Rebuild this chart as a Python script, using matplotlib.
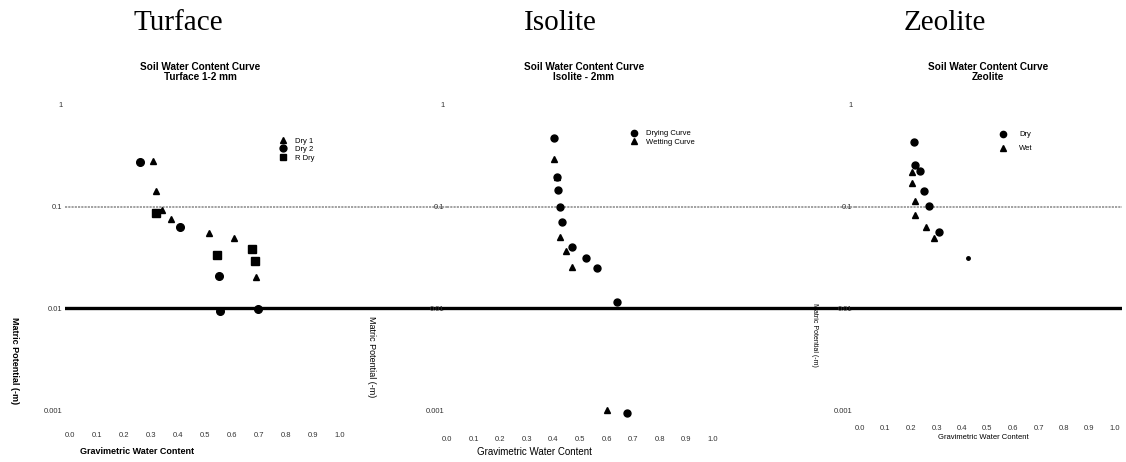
import matplotlib
matplotlib.use("Agg")
import matplotlib.pyplot as plt

# ---- data ----
x_ticks = [0.0, 0.1, 0.2, 0.3, 0.4, 0.5, 0.6, 0.7, 0.8, 0.9, 1.0]
x_tick_labels = ["0.0", "0.1", "0.2", "0.3", "0.4", "0.5", "0.6", "0.7", "0.8", "0.9", "1.0"]
y_ticks = [1, 0.1, 0.01, 0.001]
y_tick_labels = ["1", "0.1", "0.01", "0.001"]

turface_dry1_x = [0.307, 0.319, 0.341, 0.374, 0.515, 0.607, 0.689]
turface_dry1_y = [0.28, 0.143, 0.093, 0.076, 0.055, 0.049, 0.0204]
turface_dry2_x = [0.259, 0.407, 0.552, 0.556, 0.696]
turface_dry2_y = [0.275, 0.063, 0.0208, 0.0094, 0.0099]
turface_rdry_x = [0.319, 0.674, 0.544, 0.685]
turface_rdry_y = [0.087, 0.038, 0.0335, 0.029]

isolite_dry_x = [0.402, 0.414, 0.417, 0.425, 0.432, 0.47, 0.523, 0.564, 0.639, 0.677]
isolite_dry_y = [0.47, 0.196, 0.146, 0.099, 0.071, 0.040, 0.031, 0.0249, 0.0116, 0.00093]
isolite_wet_x = [0.402, 0.414, 0.425, 0.447, 0.47, 0.60]
isolite_wet_y = [0.294, 0.196, 0.050, 0.037, 0.0255, 0.001]

zeolite_dry_x = [0.21, 0.215, 0.235, 0.25, 0.27, 0.31]
zeolite_dry_y = [0.43, 0.257, 0.224, 0.143, 0.102, 0.056]
zeolite_dry_small_x = [0.425]
zeolite_dry_small_y = [0.031]
zeolite_wet_x = [0.205, 0.205, 0.215, 0.215, 0.26, 0.29]
zeolite_wet_y = [0.22, 0.171, 0.114, 0.083, 0.063, 0.049]

W, H = 1126, 462
AX_TOP, AX_BOT = 100, 418          # pixel rows of the axes box
YLIM = (10 ** -3.078, 10 ** 0.049)
SANS = "Liberation Sans"


def make_axes(fig, left_px, right_px, xlim, xpad):
    ax = fig.add_axes([left_px / W, (H - AX_BOT) / H,
                       (right_px - left_px) / W, (AX_BOT - AX_TOP) / H])
    ax.set_yscale("log")
    ax.set_xlim(*xlim)
    ax.set_ylim(*YLIM)
    for s in ax.spines.values():
        s.set_visible(False)
    ax.set_xticks(x_ticks)
    ax.set_xticklabels(x_tick_labels, fontsize=5.5, color="#333333", family=SANS)
    ax.set_yticks(y_ticks)
    ax.set_yticklabels(y_tick_labels, fontsize=5.5, color="#333333", family=SANS)
    ax.minorticks_off()
    ax.tick_params(axis="x", length=0, pad=xpad)
    ax.tick_params(axis="y", length=0, pad=2)
    # the two horizontal rules that run across the whole page
    ax.axhline(0.1, color="#9a9a9a", lw=1.3, ls=(0, (1.2, 0.6)), zorder=1)
    ax.axhline(0.01, color="black", lw=2.4, zorder=1)
    ax.patch.set_alpha(0)
    return ax


fig = plt.figure(figsize=(W / 100, H / 100), dpi=100)

# titles
for name, cx in [("Turface", 178), ("Isolite", 560), ("Zeolite", 945)]:
    fig.text(cx / W, 1 - 23 / H, name, family="Liberation Serif", fontsize=21,
             ha="center", va="center")
for sub, cx in [("Soil Water Content Curve\nTurface 1-2 mm", 200),
                ("Soil Water Content Curve\nIsolite - 2mm", 584),
                ("Soil Water Content Curve\nZeolite", 988)]:
    fig.text(cx / W, 1 - 72 / H, sub, family=SANS, fontsize=7.2, weight="bold",
             ha="center", va="center", linespacing=0.95)

mk = dict(color="black", ls="none", zorder=3)

# Turface
ax1 = make_axes(fig, 65, 447, ((65 - 70) / 270, (447 - 70) / 270), 10)
ax1.plot(turface_dry1_x, turface_dry1_y, marker="^", ms=5, label="Dry 1", **mk)
ax1.plot(turface_dry2_x, turface_dry2_y, marker="o", ms=5.5, label="Dry 2", **mk)
ax1.plot(turface_rdry_x, turface_rdry_y, marker="s", ms=5.5, label="R Dry", **mk)
ax1.legend(loc="upper left", bbox_to_anchor=(0.54, 0.895), frameon=False,
           prop={"family": SANS, "size": 5.5}, labelspacing=0.15,
           handletextpad=0.6, borderpad=0, markerscale=0.9)
ax1.set_xlabel("Gravimetric Water Content", family=SANS, fontsize=6.5, weight="bold")
ax1.xaxis.set_label_coords(0.188, -0.09)
ax1.set_ylabel("Matric Potential (-m)", family=SANS, fontsize=6.5, weight="bold",
               rotation=-90, va="center", ha="center")
ax1.yaxis.set_label_coords(-0.131, 0.182)

# Isolite
ax2 = make_axes(fig, 447, 855, (0.0, (855 - 447) / 266), 13)
ax2.plot(isolite_dry_x, isolite_dry_y, marker="o", ms=5, label="Drying Curve", **mk)
ax2.plot(isolite_wet_x, isolite_wet_y, marker="^", ms=5, label="Wetting Curve", **mk)
ax2.legend(loc="upper left", bbox_to_anchor=(0.43, 0.918), frameon=False,
           prop={"family": SANS, "size": 5.5}, labelspacing=0.2,
           handletextpad=0.6, borderpad=0, markerscale=0.9)
ax2.set_xlabel("Gravimetric Water Content", family=SANS, fontsize=7)
ax2.xaxis.set_label_coords(0.214, -0.09)
ax2.set_ylabel("Matric Potential (-m)", family=SANS, fontsize=6.5,
               rotation=-90, va="center", ha="center")
ax2.yaxis.set_label_coords(-0.184, 0.192)

# Zeolite
ax3 = make_axes(fig, 855, 1122, ((855 - 860) / 255, (1122 - 860) / 255), 5)
ax3.plot(zeolite_dry_x, zeolite_dry_y, marker="o", ms=5, label="Dry", **mk)
ax3.plot(zeolite_wet_x, zeolite_wet_y, marker="^", ms=5, label="Wet", **mk)
ax3.plot(zeolite_dry_small_x, zeolite_dry_small_y, marker="o", ms=2.5, **mk)
ax3.legend(loc="upper left", bbox_to_anchor=(0.51, 0.915), frameon=False,
           prop={"family": SANS, "size": 5.5}, labelspacing=0.9,
           handletextpad=1.2, borderpad=0, markerscale=0.9)
ax3.set_xlabel("Gravimetric Water Content", family=SANS, fontsize=5.5)
ax3.xaxis.set_label_coords(0.48, -0.05)
ax3.set_ylabel("Matric Potential (-m)", family=SANS, fontsize=5,
               rotation=-90, va="center", ha="center")
ax3.yaxis.set_label_coords(-0.15, 0.26)

fig.savefig("out.png", dpi=100)
plt.close(fig)
